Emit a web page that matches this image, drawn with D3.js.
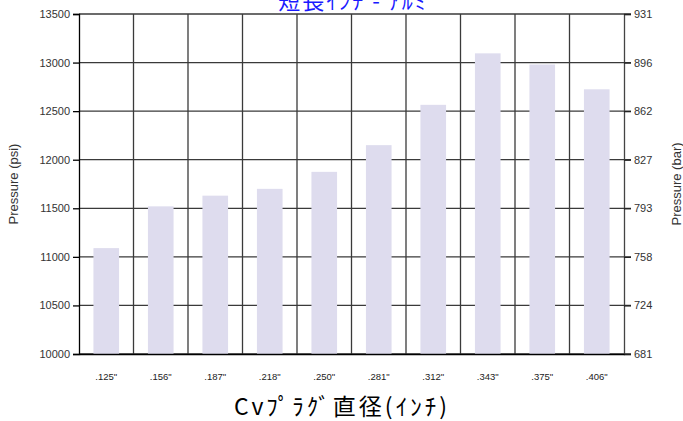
<!DOCTYPE html>
<html><head><meta charset="utf-8">
<script src="https://cdn.jsdelivr.net/npm/d3@7"></script>
<style>body{margin:0;background:#fff}svg{display:block}</style>
</head><body>
<svg id="c" width="683" height="421"></svg>
<script>
const categories = ['.125"', '.156"', '.187"', '.218"', '.250"', '.281"', '.312"', '.343"', '.375"', '.406"'];
const pressurePsi = [11090, 11520, 11630, 11700, 11875, 12150, 12565, 13095, 12980, 12725];
const psiTicks = [10000, 10500, 11000, 11500, 12000, 12500, 13000, 13500];
const barTickLabels = ['681', '724', '758', '793', '827', '862', '896', '931'];
const title = '短長ｲﾝﾁ - ｱﾙﾐ';
const xTitle = 'Cvﾌﾟﾗｸﾞ直径(ｲﾝﾁ)';

const svg = d3.select('#c');
const m = {l: 79, r: 624, t: 14, b: 354};
const x = d3.scaleBand().domain(categories).range([m.l, m.r]).paddingInner(0).paddingOuter(0);
const y = d3.scaleLinear().domain([10000, 13500]).range([m.b, m.t]);
const font = '"Liberation Sans", Arial, sans-serif';
const cjk = '"Noto Sans CJK JP", sans-serif';

// grid
const g = svg.append('g');
g.selectAll('line.h').data(psiTicks).join('line')
  .attr('x1', m.l).attr('x2', m.r + 7)
  .attr('y1', d => y(d)).attr('y2', d => y(d))
  .attr('stroke', '#3a3a3a').attr('stroke-width', 1.3);
g.selectAll('line.v').data(categories.slice(1)).join('line')
  .attr('x1', d => x(d)).attr('x2', d => x(d))
  .attr('y1', m.t).attr('y2', m.b)
  .attr('stroke', '#3a3a3a').attr('stroke-width', 1.3);

// bars
const bw = x.bandwidth() * 0.47;
svg.append('g').selectAll('rect').data(pressurePsi).join('rect')
  .attr('x', (d, i) => x(categories[i]) + (x.bandwidth() - bw) / 2)
  .attr('width', bw)
  .attr('y', d => y(d))
  .attr('height', d => y(10000) - y(d))
  .attr('fill', '#dedcee');

// left axis
const la = svg.append('g').attr('transform', `translate(${m.l},0)`)
  .call(d3.axisLeft(y).tickValues(psiTicks).tickFormat(d3.format('d')).tickSize(6).tickPadding(3));
la.select('.domain').attr('stroke', '#000').attr('stroke-width', 1.3);
la.selectAll('.tick line').attr('stroke', '#000').attr('stroke-width', 1.3);
la.selectAll('text').attr('font-family', font).attr('font-size', 11).attr('fill', '#333');

// right axis
const ra = svg.append('g').attr('transform', `translate(${m.r},0)`)
  .call(d3.axisRight(y).tickValues(psiTicks).tickFormat((d, i) => barTickLabels[i]).tickSize(7).tickPadding(3));
ra.select('.domain').attr('stroke', '#444').attr('stroke-width', 1.3);
ra.selectAll('.tick line').attr('stroke', '#222').attr('stroke-width', 1.3);
ra.selectAll('text').attr('font-family', font).attr('font-size', 11).attr('fill', '#333');

// bottom axis
const ba = svg.append('g').attr('transform', `translate(0,${m.b})`)
  .call(d3.axisBottom(x).tickSize(0).tickPadding(19));
ba.select('.domain').attr('stroke', '#000').attr('stroke-width', 1.3);
ba.selectAll('text').attr('font-family', font).attr('font-size', 9.5).attr('fill', '#222');

// axis titles
svg.append('text').attr('transform', 'translate(18,184) rotate(-90)')
  .attr('text-anchor', 'middle').attr('font-family', font).attr('font-size', 13).attr('fill', '#333')
  .text('Pressure (psi)');
svg.append('text').attr('transform', 'translate(681,184) rotate(-90)')
  .attr('text-anchor', 'middle').attr('font-family', font).attr('font-size', 13).attr('fill', '#333')
  .text('Pressure (bar)');

svg.append('text').attr('x', 353).attr('y', 9)
  .attr('text-anchor', 'middle').attr('font-family', cjk).attr('font-size', 22)
  .attr('letter-spacing', 2).attr('fill', '#1a1aff')
  .text(title);
svg.append('text').attr('x', 342).attr('y', 415)
  .attr('text-anchor', 'middle').attr('font-family', cjk).attr('font-size', 23)
  .attr('letter-spacing', 3).attr('fill', '#000')
  .text(xTitle);
</script>
</body></html>
